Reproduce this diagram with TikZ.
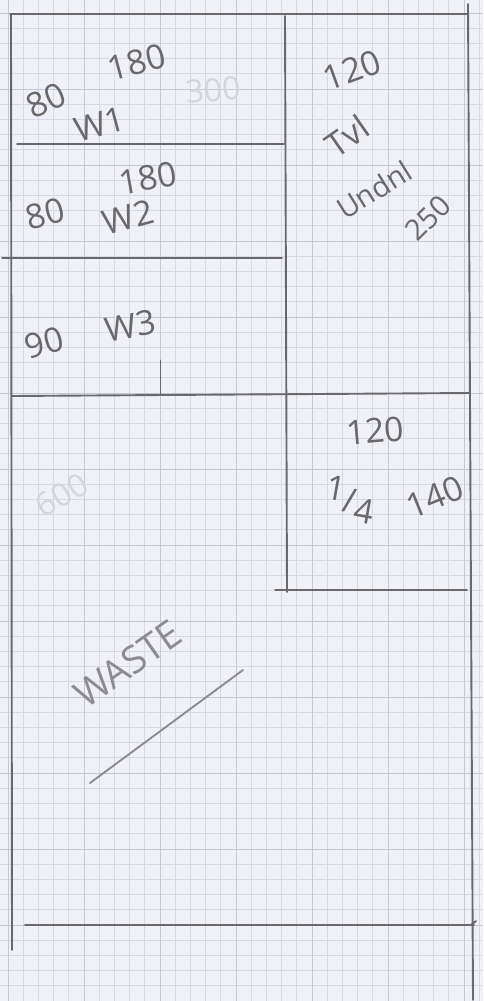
\documentclass[tikz,border=0pt]{standalone}
\usepackage{fontspec}
\setmainfont{Open Sans}
\definecolor{paper}{RGB}{240,240,247}
\definecolor{gridminor}{RGB}{214,217,228}
\definecolor{gridmajor}{RGB}{196,200,214}
\definecolor{pencil}{RGB}{105,105,108}
\definecolor{pencilsoft}{RGB}{140,140,144}
\definecolor{ghost}{RGB}{212,212,222}
\tikzset{
  pen/.style={draw=pencil, line width=1.9pt, line cap=round},
  softpen/.style={draw=pencilsoft, line width=1.9pt, line cap=round},
  hand/.style={text=pencil, inner sep=0pt, font=\fontsize{34}{34}\selectfont},
  tvhand/.style={text=pencil, inner sep=0pt, font=\fontsize{29}{29}\selectfont},
  softhand/.style={text=pencilsoft, inner sep=0pt, font=\fontsize{38}{38}\selectfont},
  ghosttext/.style={text=ghost, inner sep=0pt, font=\fontsize{32}{32}\selectfont},
}
\begin{document}
\begin{tikzpicture}[x=1pt,y=-1pt]
  % paper
  \fill[paper] (0,0) rectangle (483,1001);
  \useasboundingbox (0,0) rectangle (483,1001);
  % minor grid
  \foreach \i in {0,...,31} {
    \draw[gridminor, line width=0.8pt] ({8+15.2*\i},0) -- ({8+15.2*\i},1001);
  }
  \foreach \i in {-1,...,65} {
    \draw[gridminor, line width=0.8pt] (0,{13+15.2*\i}) -- (483,{13+15.2*\i});
  }
  % major grid
  \foreach \i in {0,...,6} {
    \draw[gridmajor, line width=1pt] ({8+76*\i},0) -- ({8+76*\i},1001);
  }
  \foreach \i in {0,...,13} {
    \draw[gridmajor, line width=1pt] (0,{13+76*\i}) -- (483,{13+76*\i});
  }

  % pencil plan
  \draw[pen] (10,14) -- (467,14);            % top edge
  \draw[pen] (11,14) -- (12,950);            % left edge
  \draw[pen] (468,4) -- (473,1000);          % right edge
  \draw[pen] (285,16) -- (287,592);          % middle divider
  \draw[pen] (17,144) -- (284,144);          % W1 / W2
  \draw[pen] (2,258) -- (282,258);           % W2 / W3
  \draw[pen] (12,396) -- (470,393);          % W3 / lower
  \draw[pen, line width=1pt] (160,360) -- (160,395); % tick
  \draw[pen] (275,590) -- (467,590);         % 1/4 bottom
  \draw[pen] (25,925) -- (474,925);          % bottom edge
  \draw[pen] (471,925) -- (476,921);
  \draw[softpen] (90,783) -- (243,670);      % waste stroke

  % W1
  \node[hand, rotate=25] (w1a) at (46,100) {80};
  \node[hand, rotate=15] (w1b) at (137,62) {180};
  \node[hand, rotate=15] (w1c) at (100,124) {W1};
  \node[ghosttext, rotate=5] (w1d) at (213,90) {300};
  % W2
  \node[hand, rotate=15] (w2a) at (45,214) {80};
  \node[hand, rotate=10] (w2b) at (148,178) {180};
  \node[hand, rotate=15] (w2c) at (128,217) {W2};
  % W3
  \node[hand, rotate=15] (w3a) at (44,343) {90};
  \node[hand, rotate=10] (w3b) at (130,326) {W3};
  % TV unit
  \node[hand, rotate=20] (tva) at (352,70) {120};
  \node[hand, rotate=35] (tvb) at (347,136) {Tvl};
  \node[tvhand, rotate=32] (tvc) at (374,190) {Undnl};
  \node[tvhand, rotate=45] (tvd) at (428,218) {250};
  % 1/4
  \node[hand, rotate=5] (qa) at (375,431) {120};
  \node[hand, rotate=-10] (qb) at (350,500) {\raisebox{10pt}{1}/\raisebox{-8pt}{4}};
  \node[hand, rotate=22] (qc) at (435,497) {140};
  % lower left
  \node[ghosttext, rotate=30] (lg) at (62,495) {600};
  \node[softhand, rotate=35] (waste) at (128,664) {WASTE};
\end{tikzpicture}
\end{document}
